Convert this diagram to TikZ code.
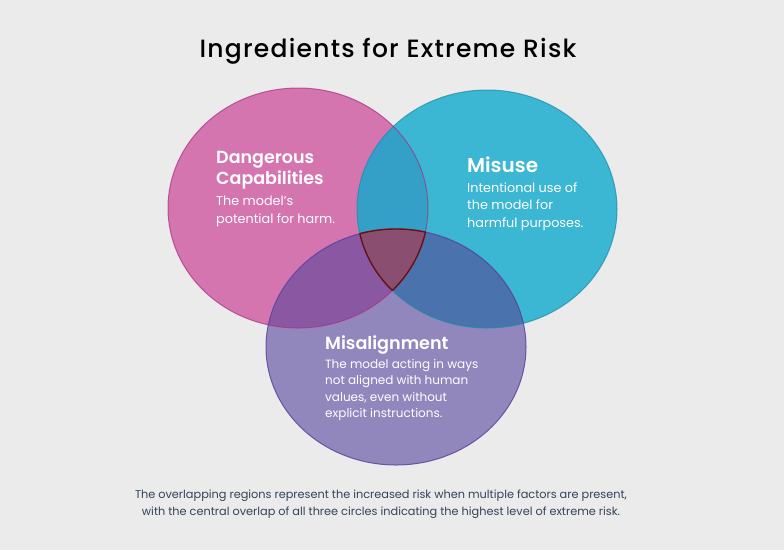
\documentclass[tikz,border=0pt]{standalone}
\usepackage{fontspec}
\setmainfont{Poppins}[BoldFont={Poppins SemiBold}]
\newfontfamily\titlefont{Poppins Medium}[LetterSpace=5.0]
\definecolor{bg}{HTML}{EBEBEB}
\definecolor{pinkc}{HTML}{D475B0}
\definecolor{pinkb}{HTML}{A8307F}
\definecolor{cyanc}{HTML}{3BB6D3}
\definecolor{cyanb}{HTML}{1A8BA8}
\definecolor{purc}{HTML}{9187BC}
\definecolor{purb}{HTML}{5A3D9A}
\definecolor{pcov}{HTML}{35A0C7}
\definecolor{ppov}{HTML}{8A58A3}
\definecolor{cpov}{HTML}{4A72AD}
\definecolor{centc}{HTML}{8A4F70}
\definecolor{centb}{HTML}{6B1010}
\definecolor{foot}{HTML}{34435A}
\tikzset{
  head/.style={anchor=base west, inner sep=0pt, text=white, font=\bfseries\fontsize{17.5}{21}\selectfont},
  body/.style={anchor=base west, inner sep=0pt, text=white, font=\fontsize{12.8}{18}\selectfont},
  foottext/.style={anchor=base, inner sep=0pt, text=foot, font=\fontsize{11.3}{17}\selectfont},
}
\def\pinkpath{(298,208) ellipse [x radius=130, y radius=120]}
\def\cyanpath{(487,209) ellipse [x radius=130, y radius=119]}
\def\purpath{(396,347) ellipse [x radius=130, y radius=118]}
\begin{document}
\begin{tikzpicture}[x=1pt,y=-1pt]
\fill[bg] (0,0) rectangle (784,550);
\useasboundingbox (0,0) rectangle (784,550);
% base fills
\fill[pinkc] \pinkpath;
\fill[cyanc] \cyanpath;
\fill[purc] \purpath;
% overlaps
\begin{scope}
  \clip \pinkpath;
  \fill[pcov] \cyanpath;
  \fill[ppov] \purpath;
\end{scope}
\begin{scope}
  \clip \cyanpath;
  \fill[cpov] \purpath;
\end{scope}
\begin{scope}
  \clip \pinkpath;
  \clip \cyanpath;
  \fill[centc] \purpath;
\end{scope}
% borders
\draw[pinkb, line width=1pt, draw opacity=0.7] \pinkpath;
\draw[cyanb, line width=1pt, draw opacity=0.7] \cyanpath;
\draw[purb, line width=1pt, draw opacity=0.8] \purpath;
\begin{scope}
  \clip \pinkpath; \clip \cyanpath;
  \draw[centb, line width=1.4pt] \purpath;
\end{scope}
\begin{scope}
  \clip \pinkpath; \clip \purpath;
  \draw[centb, line width=1.4pt] \cyanpath;
\end{scope}
\begin{scope}
  \clip \cyanpath; \clip \purpath;
  \draw[centb, line width=1.4pt] \pinkpath;
\end{scope}
% title
\node[anchor=base, inner sep=0pt, font=\titlefont\fontsize{25}{28}\selectfont, text=black] (title) at (388,57.5) {Ingredients for Extreme Risk};
% Dangerous capabilities
\node[head] (dc1) at (216,163) {Dangerous};
\node[head] (dc2) at (216,184) {Capabilities};
\node[body] (dc3) at (216,205) {The model's};
\node[body] (dc4) at (216,223) {potential for harm.};
% Misuse
\node[head, font=\bfseries\fontsize{20}{24}\selectfont] (mu1) at (467,172) {Misuse};
\node[body] (mu2) at (467,192) {Intentional use of};
\node[body] (mu3) at (467,209.5) {the model for};
\node[body] (mu4) at (467,227) {harmful purposes.};
% Misalignment
\node[head, font=\bfseries\fontsize{17.6}{22}\selectfont] (ma1) at (325,349) {Misalignment};
\node[body, font=\fontsize{12}{16}\selectfont] (ma2) at (325,368) {The model acting in ways};
\node[body, font=\fontsize{12}{16}\selectfont] (ma3) at (325,384.5) {not aligned with human};
\node[body, font=\fontsize{12}{16}\selectfont] (ma4) at (325,401) {values, even without};
\node[body, font=\fontsize{12}{16}\selectfont] (ma5) at (325,417) {explicit instructions.};
% footer
\node[foottext] (f1) at (381,498) {The overlapping regions represent the increased risk when multiple factors are present,};
\node[foottext] (f2) at (381,515) {with the central overlap of all three circles indicating the highest level of extreme risk.};
\end{tikzpicture}
\end{document}
